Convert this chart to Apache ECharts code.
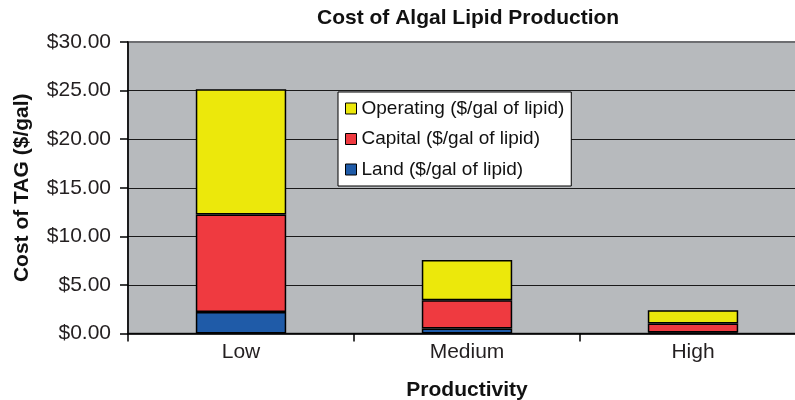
<!DOCTYPE html>
<html>
<head>
    <meta charset="utf-8">
    <title>Cost of Algal Lipid Production</title>
    <script src="https://cdn.jsdelivr.net/npm/echarts@6/dist/echarts.min.js"></script>
</head>
<body style="margin:0;">
    <div id="chartmain" style="width:795px; height:400px;"></div>
    <script type="text/javascript">
        // data
        var categories = ['Low', 'Medium', 'High'];
        var landCost = [2.2, 0.52, 0.1];
        var capitalCost = [10.05, 2.91, 0.93];
        var operatingCost = [12.9, 4.13, 1.37];
        var seriesNames = ['Operating ($/gal of lipid)', 'Capital ($/gal of lipid)', 'Land ($/gal of lipid)'];

        var font = '"Liberation Sans", Arial, sans-serif';

        function barSeries(name, data, color) {
            return {
                name: name,
                type: 'bar',
                stack: 'cost',
                barWidth: '40%',
                data: data,
                itemStyle: { color: color, borderColor: '#000', borderWidth: 1.5 }
            };
        }

        var option = {
            animation: false,
            textStyle: { fontFamily: font },
            title: {
                text: 'Cost of Algal Lipid Production',
                left: 312,
                top: 3,
                textStyle: { fontFamily: font, fontSize: 21, fontWeight: 'bold', color: '#111' }
            },
            legend: {
                orient: 'vertical',
                left: 338,
                top: 92,
                padding: [7, 7, 7, 7],
                itemWidth: 11,
                itemHeight: 11,
                itemGap: 11.5,
                icon: 'rect',
                backgroundColor: '#fff',
                borderColor: '#000',
                borderWidth: 1,
                borderRadius: 0,
                data: seriesNames,
                itemStyle: { borderColor: '#000', borderWidth: 1 },
                textStyle: { fontFamily: font, fontSize: 19, lineHeight: 19, color: '#111', padding: [0, 0, 0, 0] }
            },
            grid: {
                left: 128,
                top: 42,
                width: 678,
                height: 291.5,
                show: true,
                backgroundColor: '#b7babd',
                borderColor: '#6d6e71',
                borderWidth: 2,
                outerBoundsMode: 'none',
                containLabel: false
            },
            xAxis: {
                type: 'category',
                data: categories,
                name: 'Productivity',
                nameLocation: 'middle',
                nameGap: 46,
                nameTextStyle: { fontFamily: font, fontSize: 21, fontWeight: 'bold', color: '#111' },
                axisLine: { lineStyle: { color: '#000', width: 1.5 } },
                axisTick: { show: true, length: 8, lineStyle: { color: '#000', width: 1.5 } },
                axisLabel: { fontFamily: font, fontSize: 21, color: '#231f20', margin: 8 }
            },
            yAxis: {
                type: 'value',
                min: 0,
                max: 30,
                interval: 5,
                name: 'Cost of TAG ($/gal)',
                nameLocation: 'middle',
                nameGap: 95,
                nameTextStyle: { fontFamily: font, fontSize: 21, fontWeight: 'bold', color: '#111' },
                axisLine: { show: true, lineStyle: { color: '#000', width: 1.5 } },
                axisTick: { show: true, length: 8, lineStyle: { color: '#000', width: 1.5 } },
                axisLabel: {
                    fontFamily: font, fontSize: 21, color: '#231f20', margin: 17,
                    formatter: function (v) { return '$' + v.toFixed(2); }
                },
                splitLine: { show: true, showMaxLine: false, lineStyle: { color: '#1a1a1a', width: 1 } }
            },
            series: [
                barSeries(seriesNames[2], landCost, '#1f5ba8'),
                barSeries(seriesNames[1], capitalCost, '#ef3a40'),
                barSeries(seriesNames[0], operatingCost, '#ece80b')
            ]
        };

        var myChart = echarts.init(document.getElementById('chartmain'));
        myChart.setOption(option);
    </script>
</body>
</html>
